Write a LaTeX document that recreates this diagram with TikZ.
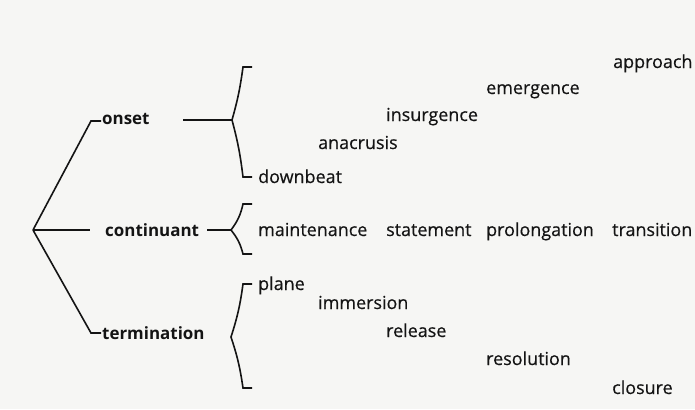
\documentclass[tikz,border=0pt]{standalone}
\usepackage{fontspec}
\setmainfont{Open Sans}
\newfontfamily\leaffont[FakeBold=0.4]{Open Sans}
\usetikzlibrary{positioning}
\definecolor{ink}{HTML}{141414}
\definecolor{paper}{HTML}{F6F6F4}

\begin{document}
\begin{tikzpicture}[x=1bp,y=-1bp,
  line/.style={line width=1.6bp, draw=ink, line join=miter},
  head/.style={font=\fontsize{17}{20}\selectfont\bfseries, text=ink, inner sep=0pt, anchor=base west},
  leaf/.style={font=\fontsize{18}{21}\leaffont, text=ink, inner sep=0pt, anchor=base west}]
\fill[paper] (0,0) rectangle (695,409);
\useasboundingbox (0,0) rectangle (695,409);

% main branches
\coordinate (root) at (33,230);
\node[head] (onset) at (102,124) {onset};
\node[head] (cont) at (105,236) {continuant};
\node[head] (term) at (102,339) {termination};
\coordinate (onsetbend) at (91,121);
\coordinate (contend) at (90,230);
\coordinate (termbend) at (91,333);
\draw[line] (root) -- (onsetbend) -- ([xshift=-1bp]onset.west |- onsetbend);
\draw[line] (root) -- (contend);
\draw[line] (root) -- (termbend) -- ([xshift=-1bp]term.west |- termbend);

% brackets
\coordinate (ostem) at (183,120);
\coordinate (ojoin) at (232,120);
\draw[line] (ostem) -- (ojoin);
\draw[line] (252,67) -- (243,67) to[bend left=4] (ojoin) to[bend left=4] (243,177) -- (252,177);

\coordinate (cstem) at (207,230);
\coordinate (cjoin) at (231,230);
\draw[line] (cstem) -- (cjoin);
\draw[line] (252,204) -- (243,204) to[bend left=12] (cjoin) to[bend left=12] (243,254) -- (252,254);

\coordinate (tjoin) at (231,337);
\draw[line] (252,284) -- (243,284) to[bend left=5] (tjoin) to[bend left=5] (243,388) -- (252,388);

% onset forms
\node[leaf] (approach) at (613,68) {approach};
\node[leaf] (emergence) at (486,94) {emergence};
\node[leaf] (insurgence) at (386,121) {insurgence};
\node[leaf] (anacrusis) at (318,149) {anacrusis};
\node[leaf] (downbeat) at (258,183) {downbeat};

% continuant forms
\node[leaf] (maint) at (258,236) {maintenance};
\node[leaf] (statement) at (386,236) {statement};
\node[leaf] (prolong) at (486,236) {prolongation};
\node[leaf] (transition) at (612,236) {transition};

% termination forms
\node[leaf] (plane) at (258,290) {plane};
\node[leaf] (immersion) at (318,309) {immersion};
\node[leaf] (release) at (386,337) {release};
\node[leaf] (resolution) at (486,365) {resolution};
\node[leaf] (closure) at (612,394) {closure};
\end{tikzpicture}
\end{document}
